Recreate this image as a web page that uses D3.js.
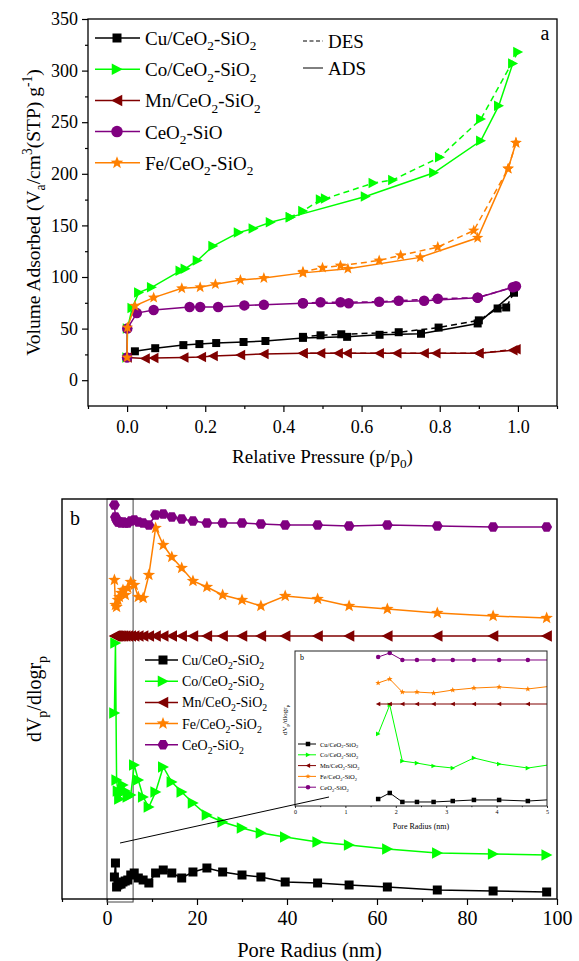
<!DOCTYPE html>
<html><head><meta charset="utf-8">
<script src="https://cdn.jsdelivr.net/npm/d3@7"></script>
<style>body{margin:0;background:#fff}svg{display:block}text{font-family:"Liberation Serif","Tinos","Times New Roman","DejaVu Serif",serif !important;fill:#000}</style>
</head><body><svg id="c" width="579" height="961"></svg>
<script>
// ---------- Panel a: N2 isotherms, [p/p0, volume] ----------
const cuAds = [[0,22],[0.02,28],[0.072,31],[0.144,34],[0.185,35],[0.228,36],[0.298,37],[0.354,38],[0.45,41],[0.563,42],[0.646,44],[0.752,45],[0.897,55],[0.99,85]];
const cuDes = [[0.99,85],[0.97,70.5],[0.948,69.5],[0.9,58],[0.797,51],[0.695,46.5],[0.548,44.5],[0.495,43.5],[0.45,42]];
const coAds = [[0,22],[0.001,50],[0.013,70],[0.03,85],[0.063,90],[0.136,106],[0.149,108],[0.18,116],[0.22,130],[0.285,143],[0.323,147],[0.367,153],[0.418,158],[0.61,178],[0.785,201],[0.905,232],[0.951,266],[0.987,307]];
const coDes = [[1.0,318],[0.905,253],[0.80,216],[0.68,194],[0.63,191],[0.508,176],[0.495,175],[0.45,164],[0.418,158]];
const mnAds = [[0,22],[0.046,21],[0.068,21.5],[0.145,22],[0.19,22.5],[0.22,23.5],[0.29,24.5],[0.35,25.5],[0.45,26],[0.563,26],[0.69,26],[0.79,26],[0.9,26],[0.987,29]];
const mnDes = [[0.995,30],[0.9,26],[0.76,26],[0.645,26],[0.54,26],[0.495,26],[0.45,26]];
const ceAds = [[0,22],[0.0005,50],[0.025,65],[0.068,68],[0.16,71],[0.187,71],[0.233,71],[0.3,72.5],[0.35,73],[0.45,74.5],[0.567,74.5],[0.76,77],[0.897,80],[0.987,90]];
const ceDes = [[0.995,91],[0.897,80],[0.795,79],[0.695,77],[0.645,76],[0.546,75.5],[0.495,75.5],[0.45,74.5]];
const feAds = [[0,22],[0.0008,51],[0.02,72],[0.068,80],[0.14,89],[0.187,90],[0.226,93],[0.29,97],[0.35,99],[0.45,104],[0.565,108],[0.75,119],[0.897,138],[0.975,205],[0.995,230]];
const feDes = [[0.995,230],[0.975,205],[0.887,145],[0.795,129],[0.70,121],[0.645,116],[0.546,111],[0.50,109],[0.45,105]];
const aXTicks = [0,0.2,0.4,0.6,0.8,1.0];
const aYTicks = [0,50,100,150,200,250,300,350];

// ---------- Panel b: pore size distribution ----------
const poreRadius = [1.65,1.88,2.13,2.42,2.75,3.13,3.55,4.05,4.62,5.28,6.05,6.96,8.03,9.3,10.8,12.5,14.4,16.6,19.1,22.2,25.7,30.0,34.2,39.6,46.8,53.8,62.3,73.4,85.8,97.7];
const cuPSD = [5.5,9,3,3.5,3.75,3.75,4.25,4.5,4.75,6,6.5,5.25,4.75,4,6.5,7.25,6.5,5.25,6.75,7.75,6.75,6,5.5,4.25,4,3.5,3,2.25,2,1.75];
const coPSD = [46.5,64,29.75,27,25,26.5,28.5,27,25.5,26,33.5,29.75,25.5,23,26.75,33,29.25,26.75,24,21,19.25,17.75,16.5,15.5,14.25,13.5,12.5,11.5,11.25,11];
const mnPSD = [65.75,65.75,65.75,65.75,65.75,65.75,65.75,65.75,65.75,65.75,65.75,65.75,65.75,65.75,65.75,65.75,65.75,65.75,65.75,65.75,65.75,65.75,65.75,65.75,65.75,65.75,65.75,65.75,65.75,65.75];
const fePSD = [79.75,73.5,73,74.75,75.5,76.5,77.25,76,77.75,79.25,78.5,75.5,75.25,81,92.75,88.5,85.5,82.75,79.5,78,76,74.75,73.25,75.75,75,73.25,72.5,71.5,70.75,70.25];
const cePSD = [98.5,95.5,94.75,94.25,94.25,94,94.25,94,94,94.5,94.75,94.25,94,93.5,96,96.25,95.5,95,94.5,94,94,94,93.75,93.5,93.5,93.25,93.5,93.25,93,93];
const bXTicks = [0,20,40,60,80,100];

// ---------- Inset (0-5 nm) ----------
const insetRadius = [1.65,1.88,2.13,2.42,2.75,3.13,3.55,4.05,4.62,5.28];
const cuInset = [4.5,8.4,2.6,2.6,2.6,3.2,3.9,3.9,3.2,4.5];
const coInset = [46.5,65.2,29,27.7,25.8,24.5,31,27.1,24.5,27.7];
const mnInset = [65.8,65.8,65.8,65.8,65.8,65.8,65.8,65.8,65.8,65.8];
const feInset = [79.4,81.9,73.5,73.5,72.9,74.8,76.1,76.8,75.5,78.1];
const ceInset = [96.1,98.7,94.2,94.2,94.2,94.2,94.2,94.2,94.2,94.2];
const insetXTicks = [0,1,2,3,4,5];

const labelsA = ["Cu/CeO_{2}-SiO_{2}","Co/CeO_{2}-SiO_{2}","Mn/CeO_{2}-SiO_{2}","CeO_{2}-SiO","Fe/CeO_{2}-SiO_{2}"];
const labelsB = ["Cu/CeO_{2}-SiO_{2}","Co/CeO_{2}-SiO_{2}","Mn/CeO_{2}-SiO_{2}","Fe/CeO_{2}-SiO_{2}","CeO_{2}-SiO_{2}"];

// ---------- helpers ----------
const FONT = '"Liberation Serif","Tinos","Times New Roman","DejaVu Serif",serif';
const svg = d3.select('#c').attr('font-family', FONT);
const C = {cu:'#000000', co:'#00ff00', mn:'#800000', fe:'#ff8000', ce:'#800080'};

function rich(sel, str, fs){
  const parts = str.match(/(_\{[^}]*\}|\^\{[^}]*\}|[^_^]+)/g);
  let off = 0;
  parts.forEach(p=>{
    let mode='n', s=p;
    if(p.startsWith('_{')){mode='sub'; s=p.slice(2,-1);}
    else if(p.startsWith('^{')){mode='sup'; s=p.slice(2,-1);}
    const target = mode==='sub'?0.28*fs:(mode==='sup'?-0.42*fs:0);
    const t = sel.append('tspan').text(s).attr('dy', target-off);
    if(mode!=='n') t.attr('font-size', 0.7*fs);
    off = target;
  });
}
function shapePath(type, s){
  const h=s/2;
  switch(type){
    case 'square': return `M${-h},${-h}h${s}v${s}h${-s}Z`;
    case 'triR': return `M${-h*0.95},${-h*1.05}L${h*1.05},0L${-h*0.95},${h*1.05}Z`;
    case 'triL': return `M${h*0.95},${-h*1.05}L${-h*1.05},0L${h*0.95},${h*1.05}Z`;
    case 'circle': return `M${h},0A${h},${h} 0 1,1 ${-h},0A${h},${h} 0 1,1 ${h},0Z`;
    case 'hex': { let d=''; for(let i=0;i<6;i++){const a=Math.PI/3*i; d+=(i?'L':'M')+(h*Math.cos(a)).toFixed(2)+','+(h*Math.sin(a)).toFixed(2);} return d+'Z'; }
    case 'star': { const R=h*1.2, r=R*0.42; let d=''; for(let i=0;i<10;i++){const a=-Math.PI/2+Math.PI/5*i; const rr=i%2?r:R; d+=(i?'L':'M')+(rr*Math.cos(a)).toFixed(2)+','+(rr*Math.sin(a)).toFixed(2);} return d+'Z'; }
  }
}
function drawSeries(g, pts, xs, ys, color, shape, size, lw, dash){
  const line = d3.line().x(d=>xs(d[0])).y(d=>ys(d[1]));
  g.append('path').datum(pts).attr('d',line).attr('fill','none').attr('stroke',color)
    .attr('stroke-width',lw).attr('stroke-dasharray',dash||null);
  g.selectAll(null).data(pts).enter().append('path')
    .attr('d',shapePath(shape,size)).attr('fill',color).attr('stroke','none')
    .attr('transform',d=>`translate(${xs(d[0])},${ys(d[1])})`);
}
function axisStyle(g){ g.attr('font-family', FONT); g.select('.domain').remove(); g.selectAll('line').attr('stroke','#000').attr('stroke-width',1.2); }

// ================= Panel a =================
const A = {l:88, r:557, t:19, b:406};
const xa = d3.scaleLinear([-0.1,1.1],[A.l,A.r]);
const ya = d3.scaleLinear([-25,350],[A.b,A.t]);

const gax = svg.append('g').attr('transform',`translate(0,${A.b})`)
  .call(d3.axisBottom(xa).tickValues(aXTicks).tickFormat(d3.format('.1f')).tickSize(6).tickPadding(8));
axisStyle(gax); gax.selectAll('text').attr('font-size',18);
const gaxm = svg.append('g').attr('transform',`translate(0,${A.b})`)
  .call(d3.axisBottom(xa).tickValues([-0.1,0.1,0.3,0.5,0.7,0.9,1.1]).tickFormat('').tickSize(3));
axisStyle(gaxm);
const gay = svg.append('g').attr('transform',`translate(${A.l},0)`)
  .call(d3.axisLeft(ya).tickValues(aYTicks).tickSize(6).tickPadding(4));
axisStyle(gay); gay.selectAll('text').attr('font-size',18);
const gaym = svg.append('g').attr('transform',`translate(${A.l},0)`)
  .call(d3.axisLeft(ya).tickValues([25,75,125,175,225,275,325]).tickFormat('').tickSize(3));
axisStyle(gaym);

const seriesA = [
  {ads:cuAds, des:cuDes, c:C.cu, s:'square', z:8},
  {ads:coAds, des:coDes, c:C.co, s:'triR', z:10},
  {ads:mnAds, des:mnDes, c:C.mn, s:'triL', z:10},
  {ads:ceAds, des:ceDes, c:C.ce, s:'circle', z:10.5},
  {ads:feAds, des:feDes, c:C.fe, s:'star', z:10}
];
const gA = svg.append('g');
seriesA.forEach(o=>{
  drawSeries(gA, o.ads, xa, ya, o.c, o.s, o.z, 1.5);
  drawSeries(gA, o.des, xa, ya, o.c, o.s, o.z, 1.5, '6,4');
});
svg.append('rect').attr('x',A.l).attr('y',A.t).attr('width',A.r-A.l).attr('height',A.b-A.t)
  .attr('fill','none').attr('stroke','#000').attr('stroke-width',1.3);

// legend a
seriesA.forEach((o,i)=>{
  const y = 38 + i*31.2;
  svg.append('line').attr('x1',95).attr('x2',140).attr('y1',y).attr('y2',y).attr('stroke',o.c).attr('stroke-width',1.5);
  svg.append('path').attr('d',shapePath(o.s,o.z+1)).attr('fill',o.c).attr('transform',`translate(117,${y})`);
  const t = svg.append('text').attr('x',145).attr('y',y+7).attr('font-size',19);
  rich(t, labelsA[i], 19);
});
svg.append('line').attr('x1',303).attr('x2',323).attr('y1',41).attr('y2',41).attr('stroke','#000').attr('stroke-width',1).attr('stroke-dasharray','4,2.5');
svg.append('text').attr('x',328).attr('y',48).attr('font-size',19).text('DES');
svg.append('line').attr('x1',303).attr('x2',323).attr('y1',68).attr('y2',68).attr('stroke','#000').attr('stroke-width',1);
svg.append('text').attr('x',328).attr('y',75).attr('font-size',19).text('ADS');
svg.append('text').attr('x',545).attr('y',40).attr('font-size',20).attr('text-anchor','middle').text('a');

// titles a
const tax = svg.append('text').attr('x',(A.l+A.r)/2).attr('y',463).attr('text-anchor','middle').attr('font-size',19);
rich(tax,'Relative Pressure (p/p_{0})',19);
const tay = svg.append('text').attr('transform',`translate(40,${(A.t+A.b)/2}) rotate(-90)`).attr('text-anchor','middle').attr('font-size',19.5);
rich(tay,'Volume Adsorbed (V_{a}/cm^{3}(STP) g^{-1})',19.5);

// ================= Panel b =================
const B = {l:62, r:557, t:499, b:899};
const xb = d3.scaleLinear([-10,100],[B.l,B.r]);
const yb = d3.scaleLinear([0,100],[B.b,B.t]);

const gbx = svg.append('g').attr('transform',`translate(0,${B.b})`)
  .call(d3.axisBottom(xb).tickValues(bXTicks).tickSize(6).tickPadding(6));
axisStyle(gbx); gbx.selectAll('text').attr('font-size',20);
const gbxm = svg.append('g').attr('transform',`translate(0,${B.b})`)
  .call(d3.axisBottom(xb).tickValues([-10,10,30,50,70,90]).tickFormat('').tickSize(3));
axisStyle(gbxm);

// zoom box
const zoomX = [0,5.8];
svg.append('rect').attr('x',xb(zoomX[0])).attr('y',B.t).attr('width',xb(zoomX[1])-xb(zoomX[0])).attr('height',yb(-0.75)-B.t)
  .attr('fill','none').attr('stroke','#444').attr('stroke-width',1);

const seriesB = [
  {v:cuPSD, iv:cuInset, c:C.cu, s:'square', z:9},
  {v:coPSD, iv:coInset, c:C.co, s:'triR', z:11},
  {v:mnPSD, iv:mnInset, c:C.mn, s:'triL', z:11},
  {v:fePSD, iv:feInset, c:C.fe, s:'star', z:11},
  {v:cePSD, iv:ceInset, c:C.ce, s:'hex', z:11}
];
const gB = svg.append('g');
seriesB.forEach(o=>{
  drawSeries(gB, poreRadius.map((r,i)=>[r,o.v[i]]), xb, yb, o.c, o.s, o.z, 1.5);
});
svg.append('rect').attr('x',B.l).attr('y',B.t).attr('width',B.r-B.l).attr('height',B.b-B.t)
  .attr('fill','none').attr('stroke','#000').attr('stroke-width',1.4);
svg.append('text').attr('x',75).attr('y',525).attr('font-size',20).attr('text-anchor','middle').text('b');

// legend b
seriesB.forEach((o,i)=>{
  const y = 660 + i*21.2;
  svg.append('line').attr('x1',145).attr('x2',178).attr('y1',y).attr('y2',y).attr('stroke',o.c).attr('stroke-width',1.5);
  svg.append('path').attr('d',shapePath(o.s,o.z)).attr('fill',o.c).attr('transform',`translate(163,${y})`);
  const t = svg.append('text').attr('x',182).attr('y',y+5).attr('font-size',14);
  rich(t, labelsB[i], 14);
});

// titles b
svg.append('text').attr('x',(B.l+B.r)/2).attr('y',957).attr('text-anchor','middle').attr('font-size',20.5).text('Pore Radius (nm)');
const tby = svg.append('text').attr('transform',`translate(41,${(B.t+B.b)/2}) rotate(-90)`).attr('text-anchor','middle').attr('font-size',20);
rich(tby,'dV_{p}/dlogr_{p}',20);

// ================= Inset =================
const I = {l:295, r:547, t:651, b:806};
const xi = d3.scaleLinear([0,5],[I.l,I.r]);
const yi = d3.scaleLinear([0,100],[I.b,I.t]);
svg.append('rect').attr('x',I.l).attr('y',I.t).attr('width',I.r-I.l).attr('height',I.b-I.t).attr('fill','#fff');
svg.append('clipPath').attr('id','ic').append('rect').attr('x',I.l).attr('y',I.t).attr('width',I.r-I.l).attr('height',I.b-I.t);
const gI = svg.append('g').attr('clip-path','url(#ic)');
seriesB.forEach(o=>{
  const sh = o.s==='hex' ? 'circle' : o.s;
  drawSeries(gI, insetRadius.map((r,i)=>[r,o.iv[i]]), xi, yi, o.c, sh, o.s==='star'?5:4.5, 1);
});
svg.append('rect').attr('x',I.l).attr('y',I.t).attr('width',I.r-I.l).attr('height',I.b-I.t)
  .attr('fill','none').attr('stroke','#222').attr('stroke-width',1);
const gix = svg.append('g').attr('transform',`translate(0,${I.b})`)
  .call(d3.axisBottom(xi).tickValues(insetXTicks).tickFormat(d3.format('d')).tickSize(2).tickPadding(2));
axisStyle(gix); gix.selectAll('line').attr('stroke-width',0.8);
gix.selectAll('text').attr('font-size',6);
const gixm = svg.append('g').attr('transform',`translate(0,${I.b})`)
  .call(d3.axisBottom(xi).tickValues([0.5,1.5,2.5,3.5,4.5]).tickFormat('').tickSize(1.2));
axisStyle(gixm); gixm.selectAll('line').attr('stroke-width',0.8);
svg.append('text').attr('x',(I.l+I.r)/2).attr('y',829).attr('text-anchor','middle').attr('font-size',8).text('Pore Radius (nm)');
svg.append('text').attr('x',302).attr('y',660).attr('font-size',8).attr('text-anchor','middle').text('b');
const tiy = svg.append('text').attr('transform',`translate(287,720) rotate(-90)`).attr('text-anchor','middle').attr('font-size',7);
rich(tiy,'dV_{p}/dlogr_{p}',7);
seriesB.forEach((o,i)=>{
  const y = 744 + i*10.8;
  const sh = o.s==='hex' ? 'circle' : o.s;
  svg.append('line').attr('x1',298).attr('x2',316).attr('y1',y).attr('y2',y).attr('stroke',o.c).attr('stroke-width',1);
  svg.append('path').attr('d',shapePath(sh,4.5)).attr('fill',o.c).attr('transform',`translate(308,${y})`);
  const t = svg.append('text').attr('x',320).attr('y',y+2.5).attr('font-size',6.5);
  rich(t, labelsB[i], 6.5);
});

// connector line from zoom box to inset
svg.append('line').attr('x1',xb(2.9)).attr('y1',yb(14)).attr('x2',xi(0.675)).attr('y2',yi(5.8))
  .attr('stroke','#000').attr('stroke-width',1);
</script></body></html>
